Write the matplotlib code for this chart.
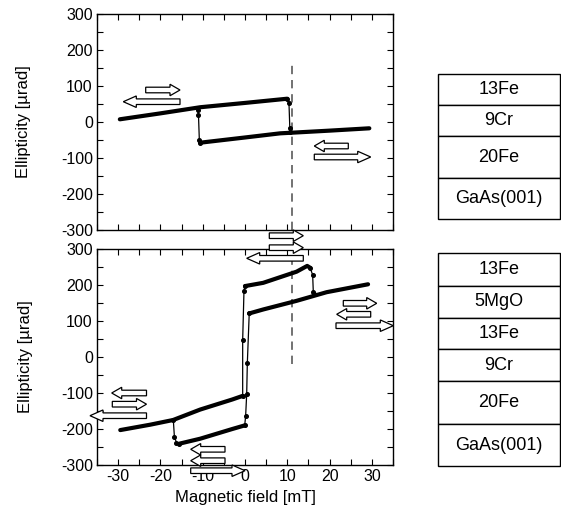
import matplotlib
matplotlib.use("Agg")
import matplotlib.pyplot as plt
from matplotlib.patches import FancyArrow, Rectangle
from matplotlib.ticker import MultipleLocator

plt.rcParams['font.family'] = ['Liberation Sans', 'DejaVu Sans']
plt.rcParams['axes.unicode_minus'] = False

# ---------------- data ----------------
# top panel: 13Fe/9Cr/20Fe/GaAs
top_upper_field = [-29.6, -20, -10.6, 0, 10.0]
top_upper_ellip = [7.5, 24, 41, 53, 64.7]
top_lower_field = [-10.6, 0, 8.3, 20, 29.4]
top_lower_ellip = [-57.5, -43, -31.5, -24, -17.5]
top_jump_up_field = [10.0, 10.4, 10.6, 10.7]
top_jump_up_ellip = [64.7, 52, -17.5, -27]
top_jump_dn_field = [-10.6, -10.8, -11.0, -11.2]
top_jump_dn_ellip = [-57.5, -50, 19.4, 34]

# bottom panel: 13Fe/5MgO/13Fe/9Cr/20Fe/GaAs
bot_ul_field = [-29.5, -22.4, -17.0, -10.6, -3.0, -0.55]
bot_ul_ellip = [-203, -188, -175, -146, -118, -108]
bot_ll_field = [-15.6, -10.6, -3.0, -0.07]
bot_ll_ellip = [-241, -227, -200, -190]
bot_ur_field = [0.0, 4.3, 12.2, 14.7, 15.4]
bot_ur_ellip = [197, 206, 237, 253, 248]
bot_lr_field = [1.0, 4.3, 12.2, 19.3, 29.1]
bot_lr_ellip = [121, 132, 156, 180, 202]
bot_jump_up_field = [-0.55, -0.55, -0.24, 0.0]
bot_jump_up_ellip = [-108, 47, 184, 197]
bot_jump_dn_field = [1.0, 0.55, 0.4, 0.15, -0.07]
bot_jump_dn_ellip = [121, -17.5, -103, -164, -190]
bot_jump_ur_field = [15.4, 16.0, 16.15, 16.3]
bot_jump_ur_ellip = [248, 228, 181, 176]
bot_jump_ll_field = [-15.6, -16.2, -16.7, -16.95]
bot_jump_ll_ellip = [-241, -238, -221, -175]

dash_field = 11.1
top_dash_ellip = [-300, 167]
bot_dash_ellip = [-20, 300]

xticks = [-30, -20, -10, 0, 10, 20, 30]
yticks = [-300, -200, -100, 0, 100, 200, 300]

top_layers = ['13Fe', '9Cr', '20Fe', 'GaAs(001)']
bot_layers = ['13Fe', '5MgO', '13Fe', '9Cr', '20Fe', 'GaAs(001)']

# ---------------- figure ----------------
W, H = 561, 508
fig = plt.figure(figsize=(W / 100, H / 100), dpi=100)

def pix_axes(x0, y0, x1, y1):
    return fig.add_axes([x0 / W, 1 - y1 / H, (x1 - x0) / W, (y1 - y0) / H])

ax1 = pix_axes(97, 14, 393, 230)
ax2 = pix_axes(97, 249, 393, 465)

FS_TICK = 11.5
FS_LAB = 12
for ax in (ax1, ax2):
    ax.set_xlim(-35, 35)
    ax.set_ylim(-300, 300)
    ax.set_xticks(xticks)
    ax.xaxis.set_minor_locator(MultipleLocator(5))
    ax.set_yticks(yticks)
    ax.yaxis.set_minor_locator(MultipleLocator(50))
    ax.tick_params(which='both', direction='in', top=True, right=True,
                   length=4, width=0.8, labelsize=FS_TICK, pad=3)
    for s in ax.spines.values():
        s.set_linewidth(1.0)
    ax.set_ylabel('Ellipticity [µrad]', fontsize=FS_LAB, va='center')

ax1.yaxis.set_label_coords(-0.25, 0.5)
ax2.yaxis.set_label_coords(-0.24, 0.5)
ax1.tick_params(labelbottom=False)
ax2.set_xlabel('Magnetic field [mT]', fontsize=FS_LAB, va='center')
ax2.xaxis.set_label_coords(0.5, -0.15)

THICK = dict(color='black', lw=3.0, solid_capstyle='round', zorder=3)
THIN = dict(color='black', lw=0.9, marker='o', ms=2.6, zorder=3)

ax1.plot(top_upper_field, top_upper_ellip, **THICK)
ax1.plot(top_lower_field, top_lower_ellip, **THICK)
ax1.plot(top_jump_up_field, top_jump_up_ellip, **THIN)
ax1.plot(top_jump_dn_field, top_jump_dn_ellip, **THIN)

ax2.plot(bot_ul_field, bot_ul_ellip, **THICK)
ax2.plot(bot_ll_field, bot_ll_ellip, **THICK)
ax2.plot(bot_ur_field, bot_ur_ellip, **THICK)
ax2.plot(bot_lr_field, bot_lr_ellip, **THICK)
for fx, fy in [(bot_jump_up_field, bot_jump_up_ellip),
               (bot_jump_dn_field, bot_jump_dn_ellip),
               (bot_jump_ur_field, bot_jump_ur_ellip),
               (bot_jump_ll_field, bot_jump_ll_ellip)]:
    ax2.plot(fx, fy, **THIN)

DASH = dict(color='#5a5a5a', lw=1.2, ls=(0, (5, 3.5)), zorder=2)
ax1.plot([dash_field, dash_field], top_dash_ellip, **DASH)
ax2.plot([dash_field, dash_field], bot_dash_ellip, **DASH)

# ---------------- overlay (pixel coordinates) ----------------
ov = fig.add_axes([0, 0, 1, 1], zorder=10)
ov.set_xlim(0, W)
ov.set_ylim(H, 0)
ov.axis('off')
ov.patch.set_alpha(0)

# (tail x, tip x, y)
arrows = [
    (145.7, 180.0, 90.0), (180.0, 123.3, 101.7),
    (348.3, 314.3, 146.0), (314.3, 370.7, 157.0),
    (269.3, 303.3, 235.7), (269.3, 303.3, 247.7), (303.3, 246.7, 258.3),
    (343.3, 376.7, 303.3), (370.7, 336.7, 314.3), (336.0, 393.3, 325.7),
    (146.5, 111.7, 393.0), (112.3, 146.5, 404.2), (146.5, 90.0, 415.7),
    (225.0, 190.7, 449.3), (225.0, 190.7, 460.7), (190.7, 245.0, 470.7),
]
for x0, x1, y in arrows:
    L = abs(x1 - x0)
    hl = 10 if L < 40 else 13
    ov.add_patch(FancyArrow(x0, y, x1 - x0, 0, width=5.6, head_width=11.5,
                            head_length=hl, length_includes_head=True,
                            fc='white', ec='black', lw=0.9))

def draw_stack(x0, x1, edges, names):
    for i, name in enumerate(names):
        ya, yb = edges[i], edges[i + 1]
        ov.add_patch(Rectangle((x0, ya), x1 - x0, yb - ya, fc='white',
                               ec='black', lw=1.0))
        ov.text((x0 + x1) / 2, (ya + yb) / 2, name, ha='center',
                va='center', fontsize=13)

draw_stack(437.7, 560, [74, 105.3, 136, 178.3, 219], top_layers)
draw_stack(437.7, 560, [252.7, 285.7, 317.7, 349.3, 381, 424, 466], bot_layers)

fig.savefig('out.png', dpi=100)
